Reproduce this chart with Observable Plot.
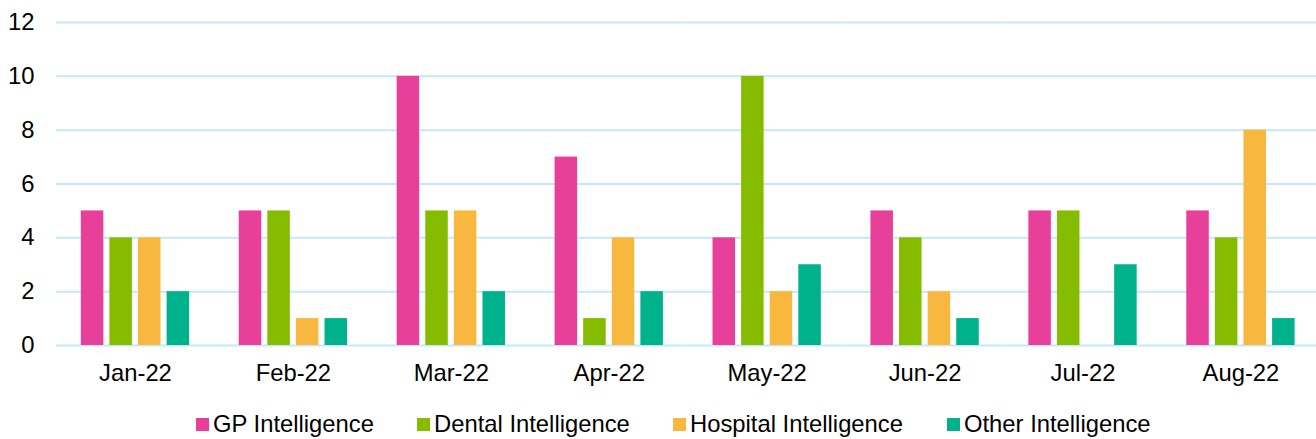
<!DOCTYPE html>
<html>
<head>
<meta charset="utf-8">
<script src="https://cdn.jsdelivr.net/npm/d3@7"></script>
<script src="https://cdn.jsdelivr.net/npm/@observablehq/plot@0.6"></script>
<style>
  html, body { margin: 0; padding: 0; background: #fff; }
  body { width: 1316px; height: 439px; overflow: hidden; font-family: "Liberation Sans", Arial, sans-serif; }
  #legend { height: 44px; font-size: 23.8px; color: #000; }
  .item { position: absolute; display: flex; align-items: center; top: 410px; height: 28px; }
  .sw { width: 13px; height: 13px; margin-right: 4px; }
</style>
</head>
<body>
<div id="chart"></div>
<div id="legend"></div>
<script>
const months = ["Jan-22", "Feb-22", "Mar-22", "Apr-22", "May-22", "Jun-22", "Jul-22", "Aug-22"];
const series = ["GP Intelligence", "Dental Intelligence", "Hospital Intelligence", "Other Intelligence"];
const colors = ["#E8409A", "#86BC00", "#F8B840", "#00B28B"];
const gp       = [5, 5, 10, 7, 4, 5, 5, 5];
const dental   = [4, 5, 5, 1, 10, 4, 5, 4];
const hospital = [4, 1, 5, 4, 2, 2, 0, 8];
const other    = [2, 1, 2, 2, 3, 1, 3, 1];
const yTicks = [0, 2, 4, 6, 8, 10, 12];
const legendX = [196, 417, 673, 947];

const values = [gp, dental, hospital, other];
const data = [];
months.forEach((m, i) => series.forEach((s, j) => data.push({month: m, series: s, value: values[j][i]})));

const chart = Plot.plot({
  width: 1316,
  height: 395,
  marginLeft: 56,
  marginRight: -3.4,
  marginTop: 22,
  marginBottom: 50,
  style: {fontFamily: "Liberation Sans, Arial, sans-serif", fontSize: "23.8px", color: "#000", background: "#fff", overflow: "hidden"},
  fx: {domain: months, padding: 0, round: false, label: null, tickSize: 0, tickPadding: 19, axis: "bottom"},
  x: {domain: series, axis: null, round: false, paddingInner: 0.213, paddingOuter: 0.867},
  y: {domain: [0, 12], ticks: yTicks, label: null, tickSize: 0, tickPadding: 22, grid: false},
  color: {domain: series, range: colors},
  marks: [
    Plot.gridY(yTicks, {stroke: "#C5E9F7", strokeOpacity: 1, strokeWidth: 2}),
    Plot.barY(data.filter(d => d.value > 0), {fx: "month", x: "series", y: "value", fill: "series"})
  ]
});
document.getElementById("chart").appendChild(chart);

const legend = document.getElementById("legend");
series.forEach((s, i) => {
  const it = document.createElement("div");
  it.className = "item";
  it.style.left = legendX[i] + "px";
  const sw = document.createElement("div");
  sw.className = "sw";
  sw.style.background = colors[i];
  const t = document.createElement("span");
  t.textContent = s;
  it.appendChild(sw);
  it.appendChild(t);
  legend.appendChild(it);
});
</script>
</body>
</html>
